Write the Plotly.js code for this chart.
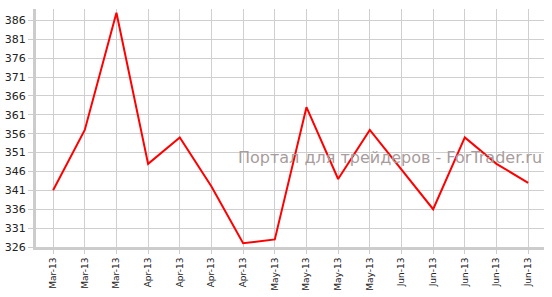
<!DOCTYPE html>
<html>
<head>
<meta charset="utf-8">
<script src="https://cdn.plot.ly/plotly-3.0.1.min.js"></script>
<style>
html,body{margin:0;padding:0;background:#fff;}
#chart{width:552px;height:297px;}
</style>
</head>
<body>
<div id="chart"></div>
<script>
const labels = ["Mar-13","Mar-13","Mar-13","Apr-13","Apr-13","Apr-13","Apr-13","May-13","May-13","May-13","May-13","Jun-13","Jun-13","Jun-13","Jun-13","Jun-13"];
const values = [341, 357, 388, 348, 355, 342, 327, 328, 363, 344, 357, 346.5, 336, 355, 348, 343];
const yTicks = [326, 331, 336, 341, 346, 351, 356, 361, 366, 371, 376, 381, 386];
const watermark = "Портал для трейдеров - ForTrader.ru";

const idx = labels.map((_, i) => i);

const trace = {
  x: idx,
  y: values,
  type: 'scatter',
  mode: 'lines',
  line: {color: '#ff0000', width: 2},
  hoverinfo: 'none'
};

const layout = {
  width: 552,
  height: 297,
  margin: {l: 36, r: 8, t: 9, b: 50},
  paper_bgcolor: '#ffffff',
  plot_bgcolor: '#ffffff',
  showlegend: false,
  font: {family: 'DejaVu Sans, Verdana, sans-serif', color: '#222'},
  xaxis: {
    range: [-0.54, 15.5],
    tickvals: idx,
    ticktext: labels,
    tickangle: -90,
    tickfont: {size: 9, color: '#222'},
    showgrid: true,
    gridcolor: '#cfcfcf',
    gridwidth: 1,
    zeroline: false,
    showline: true,
    linecolor: '#cccccc',
    linewidth: 3,
    ticks: 'outside',
    ticklen: 4,
    tickcolor: '#cccccc',
    fixedrange: true
  },
  yaxis: {
    range: [326, 389],
    tickvals: yTicks,
    ticktext: yTicks.map(String),
    tickfont: {size: 11, color: '#222'},
    showgrid: true,
    gridcolor: '#cfcfcf',
    gridwidth: 1,
    zeroline: false,
    showline: true,
    linecolor: '#cccccc',
    linewidth: 3,
    ticks: 'outside',
    ticklen: 5,
    tickcolor: '#cccccc',
    fixedrange: true
  },
  annotations: [{
    text: watermark,
    xref: 'paper', yref: 'paper',
    x: 1, y: 0.376,
    xanchor: 'right', yanchor: 'middle',
    showarrow: false,
    font: {family: 'DejaVu Sans, Verdana, sans-serif', size: 16, color: '#a89c9c'}
  }]
};

Plotly.newPlot('chart', [trace], layout, {staticPlot: true, displayModeBar: false});
</script>
</body>
</html>
